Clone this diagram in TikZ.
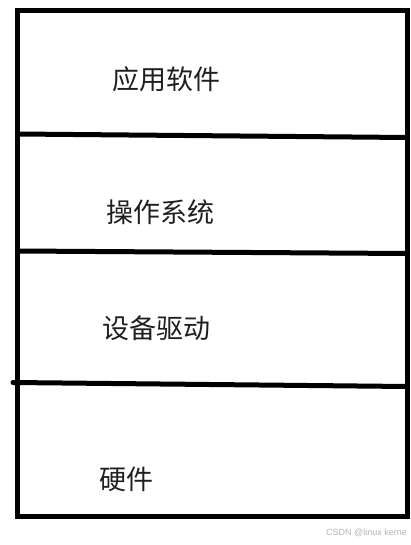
\documentclass[tikz,border=0pt]{standalone}
\usepackage{fontspec}
\newfontfamily\cjk{Noto Sans CJK SC}
\setsansfont{Liberation Sans}
\begin{document}
\begin{tikzpicture}[x=1pt,y=-1pt,
  layerline/.style={line width=5pt,black},
  layertext/.style={font=\cjk\fontsize{27}{28}\selectfont,text=black!88,anchor=west,inner sep=0pt},
  mark text/.style={font=\sffamily\fontsize{9}{10}\selectfont,text=black!30,anchor=east,inner sep=0pt}]
\useasboundingbox (0,0) rectangle (411,545);
% outer frame
\draw[layerline,line join=miter] (17.5,11) rectangle (407,516);
% separators
\coordinate (s1l) at (17.5,134);
\coordinate (s1r) at (407,137.5);
\coordinate (s2l) at (17.5,251);
\coordinate (s2r) at (407,253.5);
\coordinate (s3l) at (13,382.5);
\coordinate (s3r) at (407,386.5);
\draw[layerline] (s1l) -- (s1r);
\draw[layerline] (s2l) -- (s2r);
\draw[layerline,line cap=round] (s3l) -- (s3r);
% labels
\node[layertext] (app) at (112,79) {应用软件};
\node[layertext] (os) at (106,212.5) {操作系统};
\node[layertext] (drv) at (102,328.5) {设备驱动};
\node[layertext] (hw) at (99,479.5) {硬件};
\node[mark text] (wm) at (407,533) {CSDN @linux kerne};
\end{tikzpicture}
\end{document}
